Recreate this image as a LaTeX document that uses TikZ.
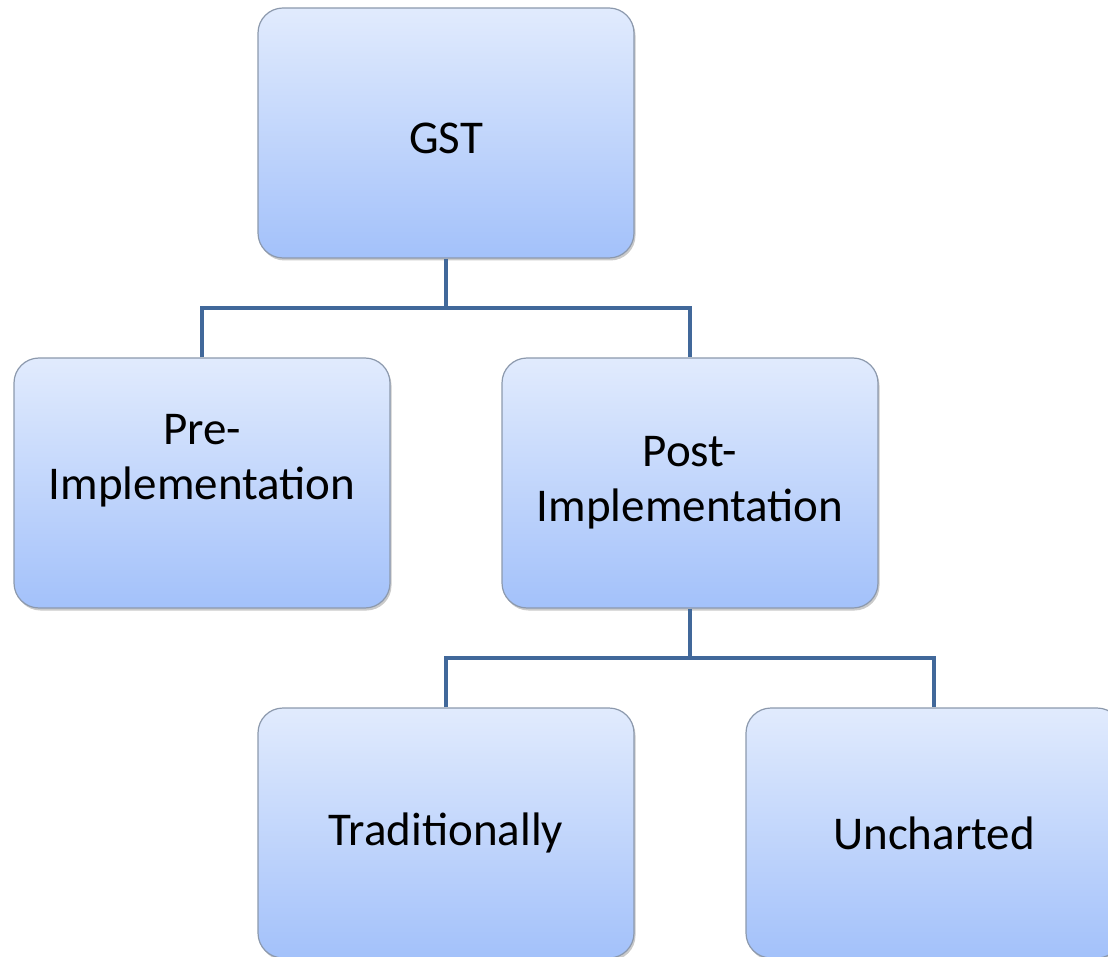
\documentclass[tikz,border=0pt]{standalone}
\usepackage{fontspec}
\setmainfont{Carlito}
\usetikzlibrary{shadows}
\definecolor{linkblue}{HTML}{41689A}
\definecolor{boxtop}{HTML}{E1EBFD}
\definecolor{boxbot}{HTML}{A3C1FA}
\definecolor{boxedge}{HTML}{8C99AD}
\tikzset{
  boxfont/.style={font=\fontsize{47}{55}\selectfont},
  orgbox/.style={rectangle, rounded corners=25pt, draw=boxedge, line width=1.2pt,
    top color=boxtop, bottom color=boxbot, minimum width=376pt, minimum height=250pt,
    inner sep=0pt, align=center, text width=360pt, boxfont,
    drop shadow={shadow xshift=1.5pt, shadow yshift=-2.5pt, opacity=0.35, fill=black!60}},
  link/.style={draw=linkblue, line width=4pt}
}
\begin{document}
\begin{tikzpicture}[x=1pt,y=1pt]
\useasboundingbox (0,0) rectangle (1108,-957);
\clip (0,0) rectangle (1108,-957);
\node[orgbox, label={[name=gsttext, boxfont, yshift=-5pt]center:GST}] (gst) at (446,-133) {};
\node[orgbox, label={[name=pretext, boxfont, align=center, yshift=22pt]center:Pre-\\Implementation}] (pre) at (202,-483) {};
\node[orgbox] (post) at (690,-483) {Post-\\Implementation};
\node[orgbox] (trad) at (446,-833) {Traditionally};
\node[orgbox] (unch) at (934,-833) {Uncharted};
\coordinate (j1) at (446,-308);
\coordinate (j2) at (690,-658);
\draw[link] (gst.south) -- (j1);
\draw[link] (pre.north) |- (j1) -| (post.north);
\draw[link] (post.south) -- (j2);
\draw[link] (trad.north) |- (j2) -| (unch.north);
\end{tikzpicture}
\end{document}
